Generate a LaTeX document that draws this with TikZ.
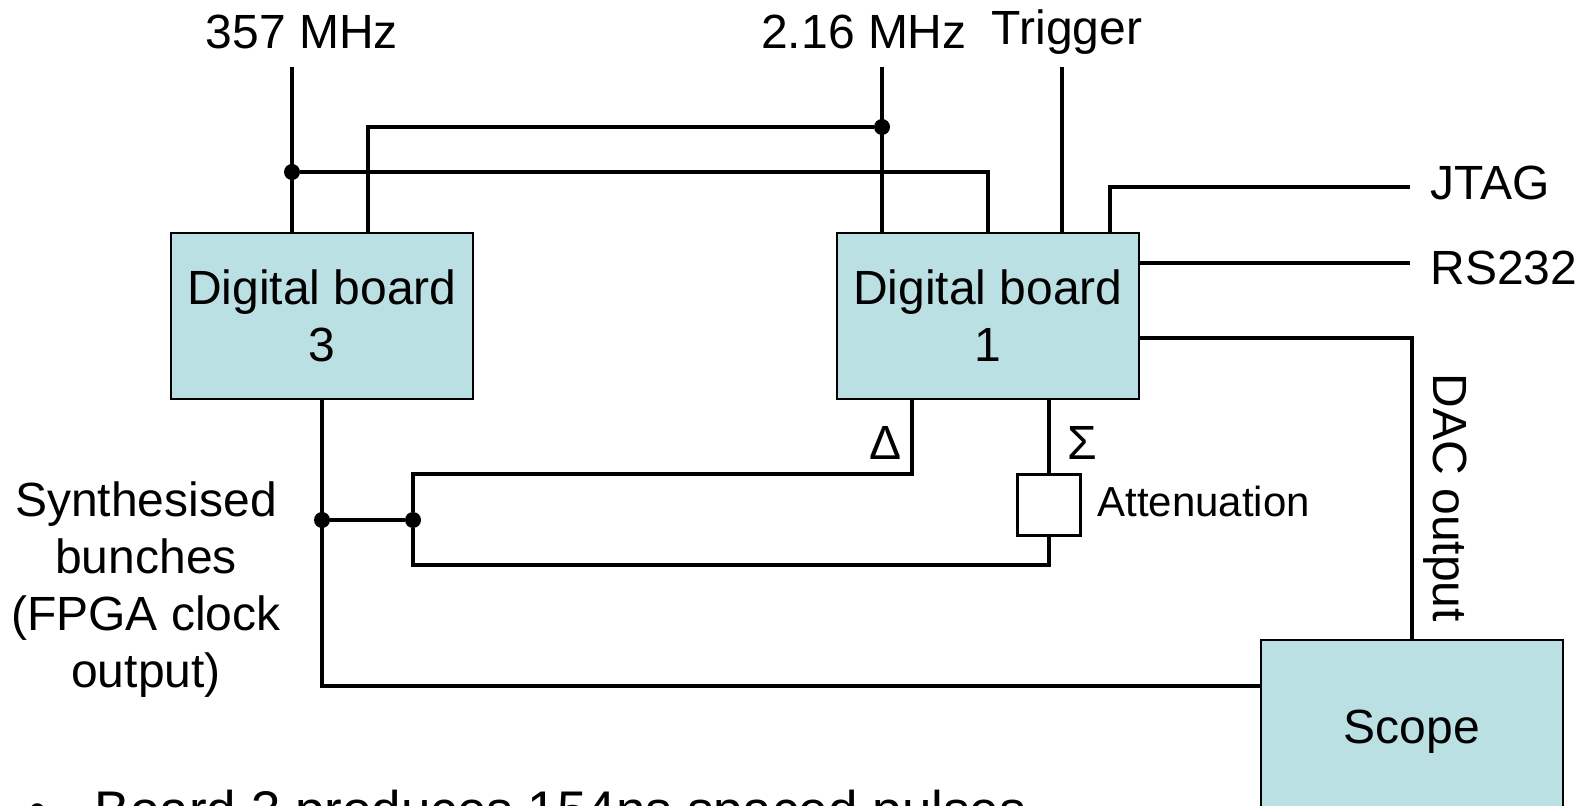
\documentclass[tikz,border=0pt]{standalone}
\usepackage{fontspec}
\setmainfont{Liberation Sans}
\usetikzlibrary{positioning}
\definecolor{boardfill}{RGB}{187,224,227}

\begin{document}
\begin{tikzpicture}[x=0.5pt, y=-0.5pt,
	board/.style={draw, line width=1.2pt, fill=boardfill, minimum width=151pt, minimum height=83pt, align=center, inner sep=0pt, font=\fontsize{24}{28.5}\selectfont},
	wire/.style={line width=1.7pt},
	dot/.style={circle, fill=black, inner sep=0pt, minimum size=8pt},
	lbl/.style={inner sep=0pt, font=\fontsize{24}{28.5}\selectfont}]
\useasboundingbox (0,0) rectangle (1579,806);
\clip (0,0) rectangle (1579,806);

% boxes
\node[board] (b3) at (322,316) {Digital board\\3};
\node[board] (b1) at (988,316) {Digital board\\1};
\node[board, minimum height=92pt] (scope) at (1412,732) {Scope};
\node[draw, line width=1.2pt, fill=white, minimum width=31.5pt, minimum height=30.5pt, inner sep=0pt] (att) at (1049,505) {};

% labels
\node[lbl] (f357) at (302,32) {357 MHz};
\node[lbl] (f216) at (864,32) {2.16 MHz};
\node[lbl] (trig) at (1067,32) {Trigger};
\node[lbl, anchor=west] (jtag) at (1430,183) {JTAG};
\node[lbl, anchor=west] (rs) at (1430,268) {RS232};
\node[lbl, rotate=-90] (dac) at (1445,498) {DAC output};
\node[lbl, anchor=west, font=\fontsize{21}{25}\selectfont] (attl) at (1097,501) {Attenuation};
\node[lbl] (dlt) at (886,443) {Δ};
\node[lbl] (sig) at (1082,443) {Σ};
\node[lbl, align=center] (synth) at (146,590) {Synthesised\\bunches\\(FPGA clock\\output)};
\node[lbl, anchor=base west, font=\fontsize{26.5}{30}\selectfont] (note) at (28,828) {\textbullet\hspace{24pt}Board 3 produces 154ns spaced pulses};

% free ends and junctions
\coordinate (in357) at (292,67);
\coordinate (in216) at (882,67);
\coordinate (intrig) at (1062,67);
\coordinate (outj) at (1410,187);
\coordinate (outr) at (1410,263);
\coordinate (dacc) at (1410,338);
\coordinate (scopein) at (1261,686);
\node[dot] (j357) at (292,172) {};
\node[dot] (j216) at (882,127) {};
\node[dot] (jb3) at (322,520) {};
\node[dot] (jsum) at (413,520) {};

% clocks and trigger
\draw[wire] (in357) -- (in357 |- b3.north);
\draw[wire] (j216) -| (368,233);
\draw[wire] (j357) -| (b1.north);
\draw[wire] (in216) -- (in216 |- b1.north);
\draw[wire] (intrig) -- (intrig |- b1.north);
\draw[wire] (outj) -| (1110,233);
\draw[wire] (outr) -- (outr -| b1.east);
\draw[wire] (b1.east |- dacc) -| (scope.north);

% pickup signals
\draw[wire] (b3.south) |- (scopein);
\draw[wire] (jb3) -- (jsum);
\draw[wire] (jsum) |- (912,474) -- (912,399);
\draw[wire] (jsum) |- (att.south |- 0,565) -- (att.south);
\draw[wire] (att.north) -- (att.north |- b1.south);
\end{tikzpicture}
\end{document}
